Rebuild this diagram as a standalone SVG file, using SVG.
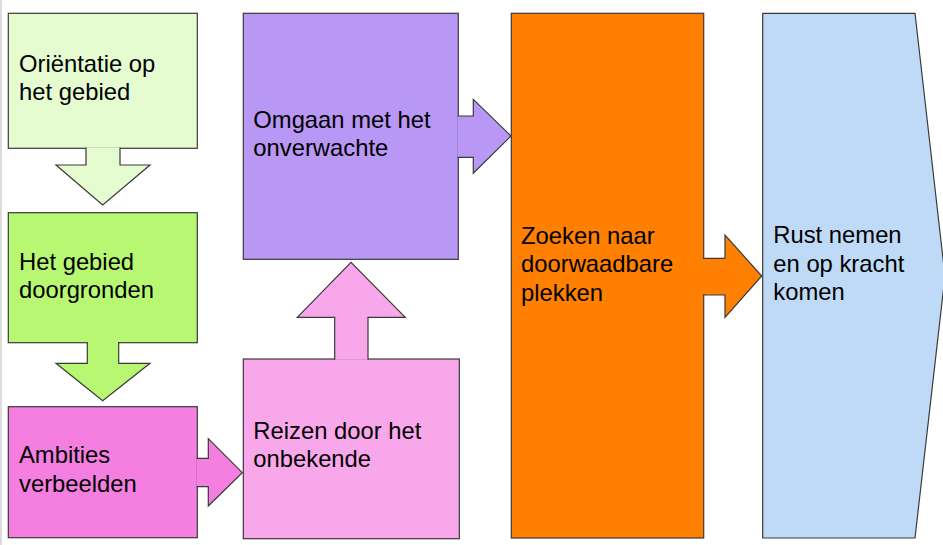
<svg xmlns="http://www.w3.org/2000/svg" width="943" height="545" viewBox="0 0 943 545">
<style>
.s{stroke:#3a3a3a;stroke-width:1.2;stroke-linejoin:miter}
text{font-family:"Liberation Sans",Arial,sans-serif;font-size:23.8px;fill:#000}
</style>
<rect x="0" y="0" width="943" height="545" fill="#fff"/>
<line x1="1" y1="0" x2="1" y2="545" stroke="#d0d0d0" stroke-width="1.5"/>
<g id="n1">
<rect class="s" fill="#e5fbd0" x="8.3" y="13.3" width="189" height="135"/>
<text x="19" y="71.7">Oriëntatie op</text>
<text x="19" y="100">het gebied</text>
</g>
<g id="n2">
<rect class="s" fill="#b8f771" x="8.3" y="212.7" width="189" height="130"/>
<text x="19" y="270">Het gebied</text>
<text x="19" y="298.3">doorgronden</text>
</g>
<g id="n3">
<rect class="s" fill="#f57fe0" x="8.3" y="406.7" width="189" height="131"/>
<text x="19" y="463.3">Ambities</text>
<text x="19" y="491.7">verbeelden</text>
</g>
<g id="n4">
<rect class="s" fill="#b897f5" x="243.3" y="13.3" width="215" height="246"/>
<text x="253.3" y="127.7">Omgaan met het</text>
<text x="253.3" y="156">onverwachte</text>
</g>
<g id="n5">
<rect class="s" fill="#f8a8ea" x="243.3" y="359" width="216" height="179.7"/>
<text x="253.3" y="439.3">Reizen door het</text>
<text x="253.3" y="467.3">onbekende</text>
</g>
<g id="n6">
<rect class="s" fill="#ff7f00" x="511.3" y="13.3" width="192.4" height="524.7"/>
<text x="521" y="244">Zoeken naar</text>
<text x="521" y="272.3">doorwaadbare</text>
<text x="521" y="300.6">plekken</text>
</g>
<g id="n7">
<path class="s" fill="#bfdaf6" d="M762.7,13.3 H915 L945,276 L915,538 H762.7 Z"/>
<text x="773.3" y="243.3">Rust nemen</text>
<text x="773.3" y="271.7">en op kracht</text>
<text x="773.3" y="300">komen</text>
</g>
<g id="connectors">
<path class="s" fill="#e5fbd0" d="M120,147.5 V165 H150 L102.7,205 L56,165 H86 V147.5"/>
<path class="s" fill="#b8f771" d="M118.7,341.9 V363.3 H150 L102.7,400.7 L56,363.3 H87.3 V341.9"/>
<path class="s" fill="#f57fe0" d="M196.5,458.3 H208.3 V438.7 L242.3,472.7 L208.3,506 V486.7 H196.5"/>
<path class="s" fill="#b897f5" d="M457.5,116 H473.3 V99.3 L511,136 L473.3,173.3 V157.3 H457.5"/>
<path class="s" fill="#f8a8ea" d="M334.7,359.8 V317.3 H297.3 L351,262.3 L405.3,317.3 H368 V359.8"/>
<path class="s" fill="#ff7f00" d="M702.9,258.3 H725 V235 L761.7,276 L725,317.3 V295 H702.9"/>
</g>
</svg>
